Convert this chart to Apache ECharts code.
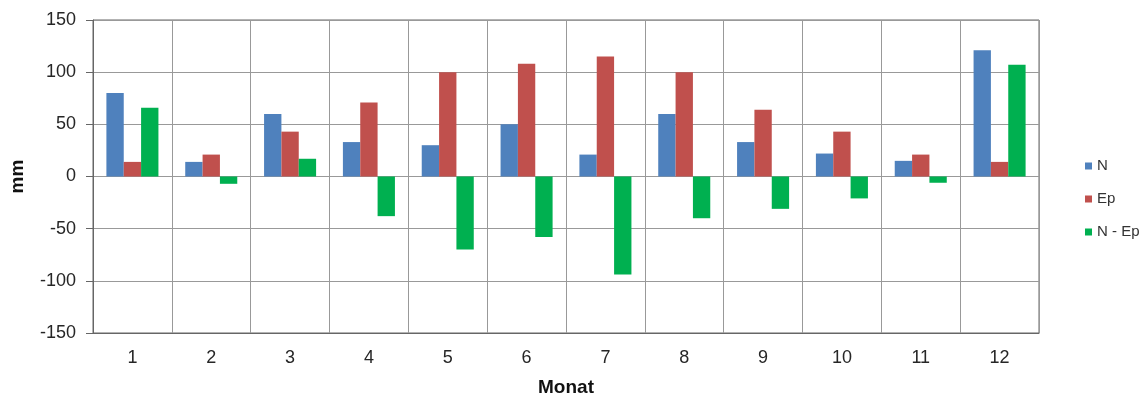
<!DOCTYPE html>
<html>
<head>
<meta charset="utf-8">
<script src="https://cdn.jsdelivr.net/npm/echarts@6/dist/echarts.min.js"></script>
<style>html,body{margin:0;padding:0;background:#fff;}#c{width:1144px;height:398px;}</style>
</head>
<body>
<div id="c"></div>
<script>
const months = ['1','2','3','4','5','6','7','8','9','10','11','12'];
const seriesN = [80, 14, 60, 33, 30, 50, 21, 60, 33, 22, 15, 121];
const seriesEp = [14, 21, 43, 71, 100, 108, 115, 100, 64, 43, 21, 14];
const seriesDiff = [66, -7, 17, -38, -70, -58, -94, -40, -31, -21, -6, 107];
const yTicks = {min: -150, max: 150, interval: 50};

const chart = echarts.init(document.getElementById('c'));
const font = 'Liberation Sans, Arial, sans-serif';
chart.setOption({
  animation: false,
  textStyle: {fontFamily: font},
  grid: {left: 93, right: 105, top: 20, bottom: 65, show: true, borderColor: '#666', borderWidth: 1,
         containLabel: false, outerBoundsMode: 'none'},
  legend: {
    orient: 'vertical', left: 1080, top: 152, icon: 'rect', itemWidth: 7, itemHeight: 7, itemGap: 15,
    textStyle: {fontSize: 15, lineHeight: 18, color: '#333', fontFamily: font}
  },
  xAxis: {
    type: 'category', data: months, name: 'Monat', nameLocation: 'middle', nameGap: 45,
    nameTextStyle: {fontSize: 19, fontWeight: 'bold', color: '#111', fontFamily: font},
    axisLine: {onZero: false, lineStyle: {color: '#666'}},
    axisTick: {show: false},
    axisLabel: {fontSize: 18, color: '#262626', margin: 16},
    splitLine: {show: true, lineStyle: {color: '#999', width: 1}}
  },
  yAxis: {
    type: 'value', min: yTicks.min, max: yTicks.max, interval: yTicks.interval,
    name: 'mm', nameLocation: 'middle', nameGap: 66, nameRotate: 90,
    nameTextStyle: {fontSize: 19, fontWeight: 'bold', color: '#111', fontFamily: font},
    axisLine: {show: true, lineStyle: {color: '#666'}},
    axisTick: {show: true, length: 7, lineStyle: {color: '#666'}},
    axisLabel: {fontSize: 18, color: '#262626', margin: 17},
    splitLine: {show: true, lineStyle: {color: '#999', width: 1}}
  },
  series: [
    {name: 'N', type: 'bar', data: seriesN, barGap: '0%', barCategoryGap: '34%', itemStyle: {color: '#4F81BD'}},
    {name: 'Ep', type: 'bar', data: seriesEp, itemStyle: {color: '#C0504D'}},
    {name: 'N - Ep', type: 'bar', data: seriesDiff, itemStyle: {color: '#00B050'}}
  ]
});
</script>
</body>
</html>
